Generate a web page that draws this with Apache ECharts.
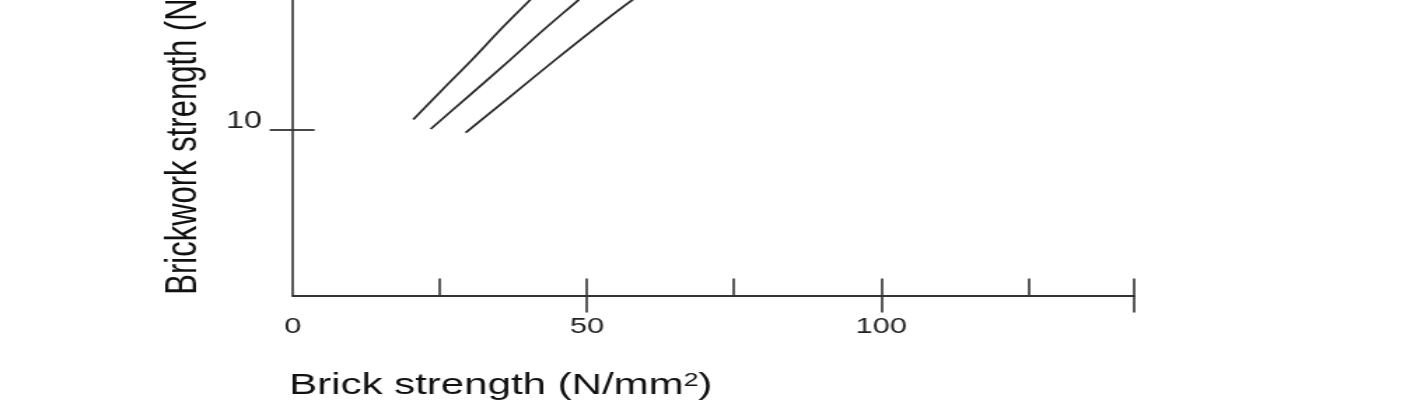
<!DOCTYPE html>
<html><head><meta charset="utf-8">
<script src="https://cdn.jsdelivr.net/npm/echarts@6/dist/echarts.min.js"></script>
<style>
html,body{margin:0;padding:0;background:#fff;overflow:hidden;width:1424px;height:404px}
#wrap{width:1424px;height:404px;overflow:hidden;position:relative}
#chart{width:1017px;height:404px;transform:scaleX(1.40020);transform-origin:0 0}
</style></head><body><div id="wrap"><div id="chart"></div></div>
<script>
// ---- data ----
const xMin = 0, xMax = 143;
const yMin = 0, yMax = 22.9;
const xInnerTicks = [25, 50, 75, 100, 125, 143];
const xOuterTicks = [50, 100, 143];
const xTickLabels = [0, 50, 100];
const yTicks = [10];
const yTickLabels = [10];
const curveA = [[20.5, 10.63], [25.4, 12.42], [30.44, 14.23], [35.25, 16.04], [40.33, 17.85], [42.0, 18.46]];
const curveB = [[23.46, 10.06], [30.1, 12.11], [36.93, 14.23], [42.6, 16.04], [48.55, 17.85], [50.5, 18.46]];
const curveC = [[29.41, 9.84], [36.24, 11.81], [44.59, 14.23], [51.0, 16.04], [57.7, 17.85], [60.4, 18.4]];
const xTitle = 'Brick strength (N/mm{sup|2})';
const yTitle = 'Brickwork strength (N/mm{sup|2})';

const ink = '#333333';
const font = 'Liberation Sans, Arial, sans-serif';
const chart = echarts.init(document.getElementById('chart'), null, {renderer: 'canvas'});
const grid = {left: 209, width: 601, top: -83.5, height: 379, outerBoundsMode: 'none', containLabel: false};
const lineSeries = (d) => ({
  type: 'line', data: d, showSymbol: false, smooth: 0.3, silent: true,
  lineStyle: {color: '#2b2b2b', width: 1.8}
});
chart.setOption({
  animation: false,
  backgroundColor: '#ffffff',
  title: {
    text: xTitle, left: 206.5, top: 371, padding: 0, itemGap: 0,
    textStyle: {fontSize: 30, fontWeight: 'normal', color: '#111', fontFamily: font, lineHeight: 30,
      rich: {sup: {fontSize: 19, verticalAlign: 'top', lineHeight: 19, color: '#111', fontFamily: font}}}
  },
  grid: grid,
  xAxis: [{
    type: 'value', min: xMin, max: xMax, position: 'bottom',
    splitLine: {show: false},
    axisLine: {show: true, onZero: false, lineStyle: {color: ink, width: 2}},
    axisTick: {show: true, inside: true, length: 17, customValues: xInnerTicks, lineStyle: {color: ink, width: 1.6}},
    axisLabel: {show: true, customValues: xTickLabels, margin: 20, fontSize: 22, color: '#222', fontFamily: font}
  }, {
    type: 'value', min: xMin, max: xMax, position: 'bottom',
    splitLine: {show: false},
    axisLine: {show: false, onZero: false},
    axisTick: {show: true, inside: false, length: 17, customValues: xOuterTicks, lineStyle: {color: ink, width: 1.6}},
    axisLabel: {show: false}
  }],
  yAxis: [{
    type: 'value', min: yMin, max: yMax, position: 'left',
    splitLine: {show: false},
    axisLine: {show: true, onZero: false, lineStyle: {color: ink, width: 1.6}},
    axisTick: {show: true, inside: true, length: 15.7, customValues: yTicks, lineStyle: {color: ink, width: 1.8}},
    axisLabel: {show: true, customValues: yTickLabels, margin: 22, fontSize: 23, color: '#222',
      fontFamily: font, verticalAlign: 'bottom', lineHeight: 17},
    name: yTitle, nameLocation: 'middle', nameGap: 62.5, nameRotate: 90,
    nameTextStyle: {fontSize: 31, color: '#111', fontFamily: font, lineHeight: 31,
      rich: {sup: {fontSize: 19, verticalAlign: 'top', lineHeight: 19, color: '#111', fontFamily: font}}}
  }, {
    type: 'value', min: yMin, max: yMax, position: 'left',
    splitLine: {show: false},
    axisLine: {show: false, onZero: false},
    axisTick: {show: true, inside: false, length: 16.4, customValues: yTicks, lineStyle: {color: ink, width: 1.8}},
    axisLabel: {show: false}
  }],
  series: [lineSeries(curveA), lineSeries(curveB), lineSeries(curveC)]
});
</script></body></html>
